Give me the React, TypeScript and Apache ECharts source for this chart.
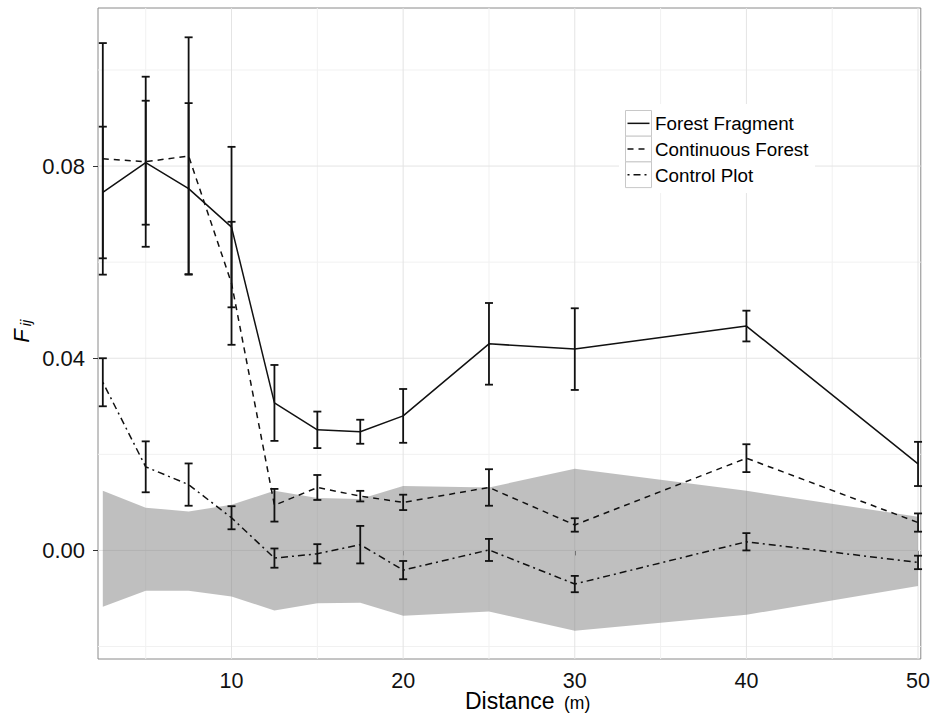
import React, { useEffect, useRef } from "react";
import * as echarts from "echarts";

// ---- data ----
const distances = [2.5, 5, 7.5, 10, 12.5, 15, 17.5, 20, 25, 30, 40, 50];

const fragmentMean = [0.0745, 0.0807, 0.0753, 0.0673, 0.0307, 0.0251, 0.0247, 0.028, 0.043, 0.0419, 0.0467, 0.018];
const fragmentErr = [0.0137, 0.0129, 0.0178, 0.0167, 0.0079, 0.0038, 0.0025, 0.0056, 0.0085, 0.0085, 0.0032, 0.0046];

const continuousMean = [0.0815, 0.0809, 0.0821, 0.0556, 0.0094, 0.0131, 0.0113, 0.01, 0.0131, 0.0053, 0.0192, 0.0058];
const continuousErr = [0.0241, 0.0177, 0.0247, 0.0128, 0.0034, 0.0026, 0.0011, 0.0016, 0.0038, 0.0014, 0.0029, 0.0019];

const controlMean = [0.035, 0.0174, 0.0137, 0.0068, -0.0016, -0.0007, 0.0012, -0.0041, 0.0001, -0.007, 0.0018, -0.0025];
const controlErr = [0.005, 0.0053, 0.0044, 0.0024, 0.002, 0.002, 0.0039, 0.0019, 0.0023, 0.0017, 0.0018, 0.0014];

const bandUpper = [0.0124, 0.0089, 0.0081, 0.0095, 0.0124, 0.0109, 0.0107, 0.0134, 0.0131, 0.017, 0.0124, 0.007];
const bandLower = [-0.0117, -0.0084, -0.0084, -0.0096, -0.0125, -0.011, -0.0109, -0.0136, -0.0127, -0.0167, -0.0134, -0.0074];

const xMajor = [10, 20, 30, 40, 50];
const xMinor = [5, 15, 25, 35, 45];
const yMajor = [0, 0.04, 0.08];
const yMinor = [-0.02, 0.02, 0.06, 0.1];

const seriesNames = ["Forest Fragment", "Continuous Forest", "Control Plot"];

const FONT = "Liberation Sans";
const DASHED = [6, 5];
const DOTDASH = [2, 4, 7, 4];

export default function App() {
  const ref = useRef<HTMLDivElement>(null);

  useEffect(() => {
    const chart = echarts.init(ref.current as HTMLDivElement, null, { renderer: "svg" });

    const vGrid = (vals: number[], color: string, z: number) => ({
      type: "custom",
      silent: true,
      z,
      data: vals.map((v) => [v, 0]),
      encode: { x: 0, y: 1 },
      renderItem: (params: any, api: any) => {
        const cs = params.coordSys;
        const p = api.coord([api.value(0), 0]);
        return {
          type: "line",
          shape: { x1: p[0], y1: cs.y, x2: p[0], y2: cs.y + cs.height },
          style: { stroke: color, lineWidth: 1 },
        };
      },
    });
    const hGrid = (vals: number[], color: string, z: number) => ({
      type: "custom",
      silent: true,
      z,
      data: vals.map((v) => [10, v]),
      encode: { x: 0, y: 1 },
      renderItem: (params: any, api: any) => {
        const cs = params.coordSys;
        const p = api.coord([10, api.value(1)]);
        return {
          type: "line",
          shape: { x1: cs.x, y1: p[1], x2: cs.x + cs.width, y2: p[1] },
          style: { stroke: color, lineWidth: 1 },
        };
      },
    });

    const errSeries = (name: string, means: number[], errs: number[]) => ({
      type: "custom",
      name,
      silent: true,
      z: 6,
      data: distances.map((d, i) => [d, means[i] - errs[i], means[i] + errs[i]]),
      encode: { x: 0, y: [1, 2] },
      renderItem: (params: any, api: any) => {
        const x = api.value(0);
        const top = api.coord([x, api.value(2)]);
        const bot = api.coord([x, api.value(1)]);
        const hw = 4;
        const st = { stroke: "#111", lineWidth: 1.8 };
        return {
          type: "group",
          children: [
            { type: "line", shape: { x1: top[0], y1: top[1], x2: bot[0], y2: bot[1] }, style: st },
            { type: "line", shape: { x1: top[0] - hw, y1: top[1], x2: top[0] + hw, y2: top[1] }, style: st },
            { type: "line", shape: { x1: bot[0] - hw, y1: bot[1], x2: bot[0] + hw, y2: bot[1] }, style: st },
          ],
        };
      },
    });

    const lineSeries = (name: string, means: number[], dash: any) => ({
      type: "line",
      name,
      silent: true,
      z: 5,
      symbol: "none",
      data: distances.map((d, i) => [d, means[i]]),
      lineStyle: { color: "#111", width: 1.5, type: dash },
    });

    const bandSeries = {
      type: "custom",
      silent: true,
      z: 3,
      data: distances.map((d, i) => [d, bandLower[i], bandUpper[i]]),
      encode: { x: 0, y: [1, 2] },
      renderItem: (params: any, api: any) => {
        if (params.dataIndex !== 0) return null;
        const up = distances.map((d, i) => api.coord([d, bandUpper[i]]));
        const lo = distances.map((d, i) => api.coord([d, bandLower[i]])).reverse();
        return {
          type: "polygon",
          shape: { points: up.concat(lo) },
          style: { fill: "rgba(127,127,127,0.5)" },
        };
      },
    };

    const dashes = [null, DASHED, DOTDASH];
    const rowH = 25.7;
    const legendGraphics: any[] = [
      { type: "rect", z: 100, shape: { x: 619, y: 104, width: 196, height: 89 }, style: { fill: "#fff" } },
    ];
    seriesNames.forEach((name, i) => {
      const y0 = 110.5 + i * rowH;
      legendGraphics.push(
        { type: "rect", z: 101, shape: { x: 625.5, y: y0, width: 26, height: rowH }, style: { fill: "#fff", stroke: "#c8c8c8", lineWidth: 1 } },
        {
          type: "line",
          z: 102,
          shape: { x1: 627.5, y1: y0 + rowH / 2, x2: 649.5, y2: y0 + rowH / 2 },
          style: { stroke: "#111", lineWidth: 1.5, lineDash: dashes[i] || undefined },
        },
        {
          type: "text",
          z: 102,
          x: 655,
          y: y0 + rowH / 2 + 0.5,
          style: { text: name, fontSize: 18.8, fontFamily: FONT, fill: "#000", verticalAlign: "middle", align: "left" },
        }
      );
    });

    const titleGraphics: any[] = [
      {
        type: "text",
        z: 100,
        x: 465,
        y: 701,
        style: { text: "Distance", fontSize: 23, fontFamily: FONT, fill: "#000", verticalAlign: "middle", align: "left" },
      },
      {
        type: "text",
        z: 100,
        x: 564,
        y: 703,
        style: { text: "(m)", fontSize: 17.5, fontFamily: FONT, fill: "#000", verticalAlign: "middle", align: "left" },
      },
      {
        type: "group",
        z: 100,
        x: 0,
        y: 0,
        rotation: Math.PI / 2,
        children: [
          {
            type: "text",
            z: 100,
            x: -336,
            y: 21,
            style: { text: "F", fontSize: 22, fontStyle: "italic", fontFamily: FONT, fill: "#000", verticalAlign: "middle", align: "center" },
          },
          {
            type: "text",
            z: 100,
            x: -323,
            y: 25,
            style: { text: "ij", fontSize: 15, fontStyle: "italic", fontFamily: FONT, fill: "#000", verticalAlign: "middle", align: "center" },
          },
        ],
      },
    ];

    const option: any = {
      animation: false,
      backgroundColor: "#fff",
      textStyle: { fontFamily: FONT },
      grid: {
        left: 98,
        top: 8,
        right: 11,
        bottom: 54,
        show: true,
        borderColor: "#8a8a8a",
        borderWidth: 1,
        backgroundColor: "transparent",
      },
      xAxis: {
        type: "value",
        min: 2.22,
        max: 50.16,
        axisLine: { show: false },
        splitLine: { show: false },
        axisTick: { show: true, length: 5, customValues: xMajor, lineStyle: { color: "#333", width: 1 } },
        axisLabel: {
          customValues: xMajor,
          fontSize: 21.5,
          color: "#111",
          margin: 11,
          fontFamily: FONT,
          formatter: (v: number) => String(v),
        },
      },
      yAxis: {
        type: "value",
        min: -0.0226,
        max: 0.1129,
        axisLine: { show: false },
        splitLine: { show: false },
        axisTick: { show: true, length: 5, customValues: yMajor, lineStyle: { color: "#333", width: 1 } },
        axisLabel: {
          customValues: yMajor,
          fontSize: 22,
          color: "#111",
          margin: 13,
          fontFamily: FONT,
          formatter: (v: number) => v.toFixed(2),
        },
      },
      series: [
        vGrid(xMinor, "#f1f1f1", 1),
        hGrid(yMinor, "#f1f1f1", 1),
        vGrid(xMajor, "#e4e4e4", 1),
        hGrid(yMajor, "#e4e4e4", 1),
        bandSeries,
        lineSeries(seriesNames[0], fragmentMean, "solid"),
        lineSeries(seriesNames[1], continuousMean, DASHED),
        lineSeries(seriesNames[2], controlMean, DOTDASH),
        errSeries(seriesNames[0] + " error", fragmentMean, fragmentErr),
        errSeries(seriesNames[1] + " error", continuousMean, continuousErr),
        errSeries(seriesNames[2] + " error", controlMean, controlErr),
      ],
      graphic: [...legendGraphics, ...titleGraphics],
    };

    chart.setOption(option);
    return () => chart.dispose();
  }, []);

  return (
    <div
      ref={ref}
      style={{ position: "fixed", left: 0, top: 0, width: 933, height: 713, background: "#fff" }}
    />
  );
}
